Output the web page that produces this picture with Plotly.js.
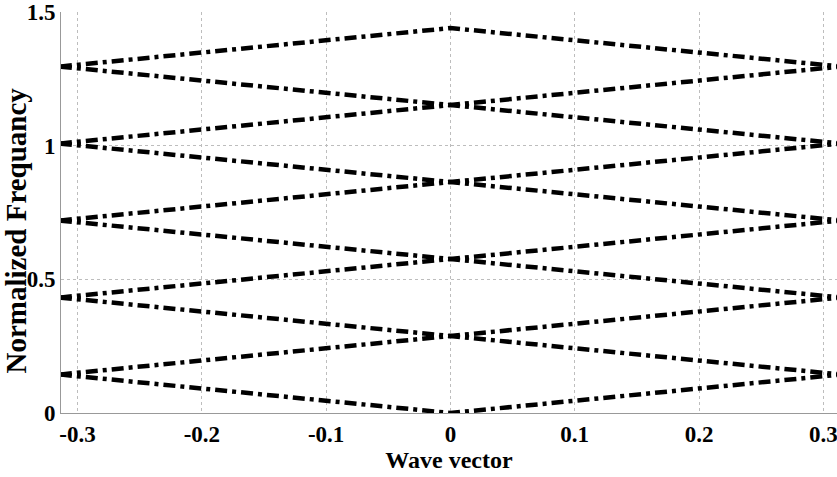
<!DOCTYPE html>
<html>
<head>
<meta charset="utf-8">
<script src="https://cdn.plot.ly/plotly-3.0.1.min.js"></script>
<style>html,body{margin:0;padding:0;background:#fff;}#chart{width:837px;height:477px;}</style>
</head>
<body>
<div id="chart"></div>
<script>
// Wave vector sample points (zone edge, centre, zone edge)
const waveVector = [-0.31416, 0, 0.31416];

// Normalized frequency of each folded band at those points
const band1  = [0.144, 0.000, 0.144];
const band2  = [0.144, 0.288, 0.432];
const band3  = [0.432, 0.288, 0.144];
const band4  = [0.432, 0.576, 0.720];
const band5  = [0.720, 0.576, 0.432];
const band6  = [0.720, 0.864, 1.008];
const band7  = [1.008, 0.864, 0.720];
const band8  = [1.008, 1.152, 1.296];
const band9  = [1.296, 1.152, 1.008];
const band10 = [1.296, 1.440, 1.296];

const bands = [band1, band2, band3, band4, band5, band6, band7, band8, band9, band10];

const xTicks = [-0.3, -0.2, -0.1, 0, 0.1, 0.2, 0.3];
const xTickLabels = ['-0.3', '-0.2', '-0.1', '0', '0.1', '0.2', '0.3'];
const yTicks = [0, 0.5, 1, 1.5];
const yTickLabels = ['0', '0.5', '1', '1.5'];
const xTitle = 'Wave vector';
const yTitle = 'Normalized Frequancy';

const traces = bands.map(function (b) {
  return {
    x: waveVector,
    y: b,
    type: 'scatter',
    mode: 'lines',
    line: {color: '#000', width: 4.5, dash: '12px,5px,4px,5px'},
    hoverinfo: 'skip',
    showlegend: false
  };
});

const fontFam = '"Liberation Serif", "Times New Roman", serif';
const bold = function (s) { return '<b>' + s + '</b>'; };

const layout = {
  width: 837,
  height: 477,
  margin: {l: 61, r: 0, t: 12, b: 64},
  paper_bgcolor: '#fff',
  plot_bgcolor: '#fff',
  showlegend: false,
  xaxis: {
    range: [-0.3133, 0.3110],
    tickvals: xTicks,
    ticktext: xTickLabels.map(bold),
    ticklabeloverflow: 'allow',
    showgrid: true,
    gridcolor: '#bdbdbd',
    griddash: 'dot',
    gridwidth: 1,
    zeroline: false,
    showline: true,
    linecolor: '#999',
    linewidth: 1,
    ticks: '',
    tickfont: {family: fontFam, size: 23, color: '#000'},
    title: {text: bold(xTitle), font: {family: fontFam, size: 24, color: '#000'}, standoff: 0}
  },
  yaxis: {
    range: [0, 1.5],
    tickvals: yTicks,
    ticktext: yTickLabels.map(bold),
    ticklabeloverflow: 'allow',
    showgrid: true,
    gridcolor: '#bdbdbd',
    griddash: 'dot',
    gridwidth: 1,
    zeroline: false,
    showline: true,
    linecolor: '#999',
    linewidth: 1,
    ticks: '',
    tickfont: {family: fontFam, size: 23, color: '#000'}
  },
  annotations: [{
    text: bold(yTitle),
    xref: 'paper', yref: 'paper',
    x: -0.0575, y: 0.456,
    xanchor: 'center', yanchor: 'middle',
    textangle: -90,
    showarrow: false,
    font: {family: fontFam, size: 29, color: '#000'}
  }]
};

Plotly.newPlot('chart', traces, layout, {staticPlot: true, displayModeBar: false});
</script>
</body>
</html>
